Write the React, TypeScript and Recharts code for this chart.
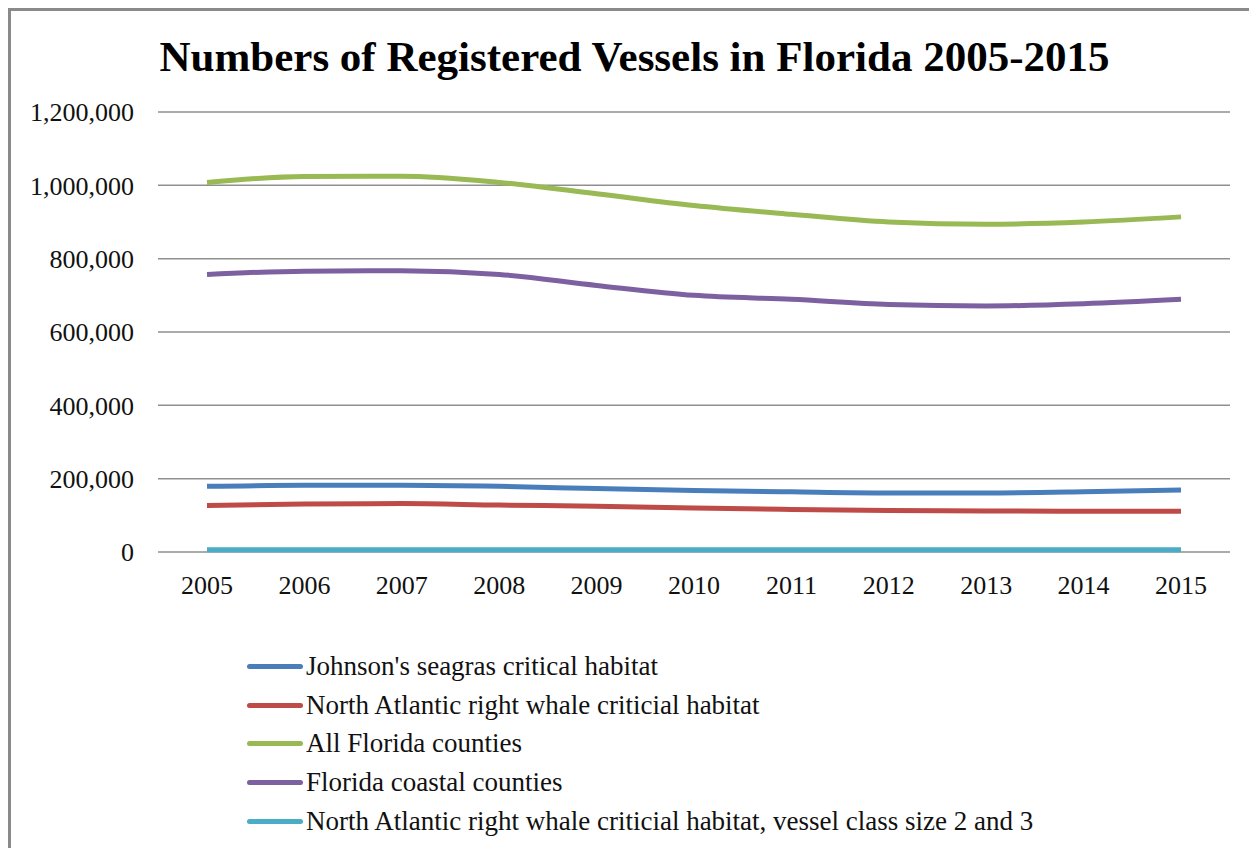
import { LineChart, Line, XAxis, YAxis, CartesianGrid, Legend } from 'recharts'

const YEARS = ['2005', '2006', '2007', '2008', '2009', '2010', '2011', '2012', '2013', '2014', '2015']

const JOHNSONS_SEAGRASS = [179000, 182000, 182000, 179000, 173000, 168000, 164000, 161000, 161000, 164000, 169000]
const RIGHT_WHALE = [127000, 131000, 132000, 128000, 125000, 120000, 116000, 113000, 112000, 111000, 111000]
const ALL_COUNTIES = [1008000, 1024000, 1025000, 1008000, 977000, 945000, 921000, 900000, 894000, 900000, 914000]
const COASTAL_COUNTIES = [757000, 766000, 767000, 757000, 727000, 700000, 689000, 675000, 671000, 677000, 689000]
const RIGHT_WHALE_SMALL = [6000, 6000, 6000, 6000, 6000, 6000, 6000, 6000, 6000, 6000, 6000]

const Y_TICKS = [0, 200000, 400000, 600000, 800000, 1000000, 1200000]

const SERIES = [
  { key: 'seagrass', label: "Johnson's seagras critical habitat", color: '#4A7EBB', values: JOHNSONS_SEAGRASS },
  { key: 'whale', label: 'North Atlantic right whale criticial habitat', color: '#BE4B48', values: RIGHT_WHALE },
  { key: 'all', label: 'All Florida counties', color: '#98B954', values: ALL_COUNTIES },
  { key: 'coastal', label: 'Florida coastal counties', color: '#7D60A0', values: COASTAL_COUNTIES },
  {
    key: 'whaleSmall',
    label: 'North Atlantic right whale criticial habitat, vessel class size 2 and 3',
    color: '#4BACC6',
    values: RIGHT_WHALE_SMALL,
  },
]

const FONT = '"Liberation Serif", "Times New Roman", serif'

const data = YEARS.map((year, i) => {
  const row: Record<string, string | number> = { year }
  SERIES.forEach((s) => {
    row[s.key] = s.values[i]
  })
  return row
})

function LegendList() {
  return (
    <div style={{ fontFamily: FONT, fontSize: 27, color: '#111' }}>
      {SERIES.map((s) => (
        <div key={s.key} style={{ display: 'flex', alignItems: 'center', height: 38.75 }}>
          <span
            style={{
              display: 'inline-block',
              width: 56,
              height: 5,
              borderRadius: 3,
              background: s.color,
              marginRight: 3,
            }}
          />
          <span>{s.label}</span>
        </div>
      ))}
    </div>
  )
}

export default function App() {
  return (
    <div
      style={{
        position: 'relative',
        width: 1247,
        height: 838,
        borderLeft: '3px solid #8a8a8a',
        borderTop: '3px solid #8a8a8a',
        background: '#fff',
        fontFamily: FONT,
      }}
    >
      <div
        style={{
          position: 'absolute',
          top: 26,
          left: 0,
          width: 1247,
          textAlign: 'center',
          fontSize: 43,
          lineHeight: '40px',
          fontWeight: 'bold',
          color: '#000',
        }}
      >
        Numbers of Registered Vessels in Florida 2005-2015
      </div>
      <LineChart
        width={1247}
        height={838}
        data={data}
        margin={{ top: 101, right: 28, bottom: 237, left: 0 }}
      >
        <CartesianGrid vertical={false} stroke="#8f8f8f" strokeWidth={1.5} />
        <XAxis
          dataKey="year"
          axisLine={false}
          tickLine={false}
          tickSize={0}
          tickMargin={24}
          height={60}
          padding={{ left: 49, right: 49 }}
          tick={{ fontSize: 26, fill: '#111', fontFamily: FONT }}
        />
        <YAxis
          domain={[0, 1200000]}
          ticks={Y_TICKS}
          axisLine={false}
          tickLine={false}
          tickSize={0}
          tickMargin={24}
          width={147}
          tick={{ fontSize: 26, fill: '#111', fontFamily: FONT }}
          tickFormatter={(v: number) => v.toLocaleString('en-US')}
        />
        <Legend
          layout="vertical"
          align="center"
          verticalAlign="middle"
          wrapperStyle={{ top: 636, left: 236, width: 950 }}
          content={() => <LegendList />}
        />
        {SERIES.map((s) => (
          <Line
            key={s.key}
            type="monotone"
            dataKey={s.key}
            name={s.label}
            stroke={s.color}
            strokeWidth={5}
            dot={false}
            activeDot={false}
            isAnimationActive={false}
          />
        ))}
      </LineChart>
    </div>
  )
}
